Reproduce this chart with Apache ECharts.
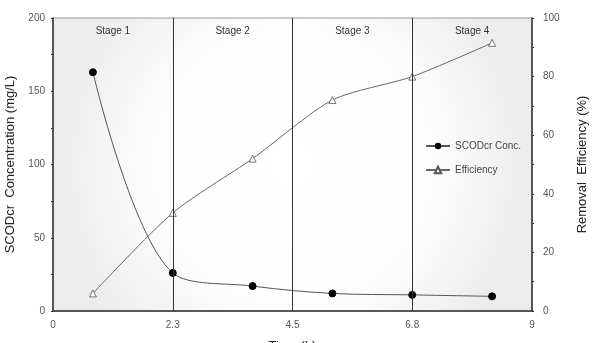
<!DOCTYPE html>
<html>
<head>
<meta charset="utf-8">
<script src="https://cdn.jsdelivr.net/npm/echarts@6/dist/echarts.min.js"></script>
<style>html,body{margin:0;padding:0;background:#fff}#c{width:599px;height:343px}</style>
</head>
<body>
<div id="c"></div>
<script>
var timeH = [0.75, 2.25, 3.75, 5.25, 6.75, 8.25];
var scodConc = [163, 26, 17, 12, 11, 10];
var efficiency = [6, 33.5, 52, 72, 80, 91.5];
var xTickValues = [0, 2.25, 4.5, 6.75, 9];
var xTickLabels = ['0', '2.3', '4.5', '6.8', '9'];
var stageBounds = [0, 2.25, 4.5, 6.75, 9];
var stageNames = ['Stage 1', 'Stage 2', 'Stage 3', 'Stage 4'];

var chart = echarts.init(document.getElementById('c'));
var font = 'Liberation Sans, Arial, sans-serif';
var tickColor = '#555';

function pairs(xs, ys){ return xs.map(function(x,i){ return [x, ys[i]]; }); }

var stageAreas = stageNames.map(function(n,i){
  return [{xAxis: stageBounds[i], name: n}, {xAxis: stageBounds[i+1]}];
});
var stageLines = stageBounds.slice(1, -1).map(function(v){ return {xAxis: v}; });

chart.setOption({
  animation: false,
  grid: {
    left: 53, right: 67, top: 18, bottom: 32,
    containLabel: false,
    outerBoundsMode: 'none',
    show: true,
    borderColor: '#999', borderWidth: 1,
    backgroundColor: {
      type: 'radial', x: 0.5, y: 0.5, r: 0.8,
      colorStops: [{offset: 0, color: '#ffffff'}, {offset: 0.6, color: '#fdfdfd'}, {offset: 1, color: '#ececec'}]
    }
  },
  legend: {
    left: 420, top: 136, orient: 'vertical', itemGap: 14,
    itemWidth: 24, itemHeight: 8,
    textStyle: {fontFamily: font, fontSize: 10, color: '#444'},
    data: ['SCODcr Conc.', 'Efficiency']
  },
  xAxis: {
    type: 'value', min: 0, max: 9, interval: 2.25,
    name: 'Time (h)', nameLocation: 'middle', nameGap: 29,
    nameTextStyle: {fontFamily: font, fontSize: 13, color: '#222'},
    axisLine: {lineStyle: {color: '#333', width: 1.5}},
    axisTick: {show: false},
    splitLine: {show: false},
    axisLabel: {
      fontFamily: font, fontSize: 10, color: tickColor, margin: 9,
      formatter: function(v){ var i = xTickValues.indexOf(v); return i >= 0 ? xTickLabels[i] : ''; }
    }
  },
  yAxis: [{
    type: 'value', min: 0, max: 200, interval: 50,
    name: 'SCODcr  Concentration (mg/L)', nameLocation: 'middle', nameGap: 35, nameRotate: 90,
    nameTextStyle: {fontFamily: font, fontSize: 13, color: '#222'},
    axisLine: {show: true, lineStyle: {color: '#333', width: 1.5}},
    axisTick: {show: true, length: 2, lineStyle: {color: '#333'}},
    minorTick: {show: true, splitNumber: 2, length: 2, lineStyle: {color: '#333'}},
    splitLine: {show: false},
    axisLabel: {fontFamily: font, fontSize: 10, color: tickColor, margin: 8}
  }, {
    type: 'value', min: 0, max: 100, interval: 20,
    name: 'Removal  Efficiency (%)', nameLocation: 'middle', nameGap: 44, nameRotate: 90,
    nameTextStyle: {fontFamily: font, fontSize: 13, color: '#222'},
    axisLine: {show: true, lineStyle: {color: '#333', width: 1.5}},
    axisTick: {show: true, length: 2, lineStyle: {color: '#333'}},
    minorTick: {show: true, splitNumber: 2, length: 2, lineStyle: {color: '#333'}},
    splitLine: {show: false},
    axisLabel: {fontFamily: font, fontSize: 10, color: tickColor, margin: 11}
  }],
  series: [{
    name: 'SCODcr Conc.', type: 'line', yAxisIndex: 0, smooth: 0.35,
    data: pairs(timeH, scodConc),
    symbol: 'circle', symbolSize: 7,
    lineStyle: {color: '#555', width: 1},
    itemStyle: {color: '#000', borderColor: '#000'},
    markLine: {
      silent: true, symbol: 'none', label: {show: false},
      lineStyle: {color: '#333', width: 1, type: 'solid'},
      data: stageLines
    },
    markArea: {
      silent: true,
      itemStyle: {color: 'rgba(0,0,0,0)'},
      label: {show: true, position: 'insideTop', distance: 8, fontFamily: font, fontSize: 10, color: '#333'},
      data: stageAreas
    }
  }, {
    name: 'Efficiency', type: 'line', yAxisIndex: 1, smooth: 0.25,
    data: pairs(timeH, efficiency),
    symbol: 'triangle', symbolSize: 7,
    lineStyle: {color: '#666', width: 1},
    itemStyle: {color: '#fff', borderColor: '#555', borderWidth: 0.8}
  }]
});
</script>
</body>
</html>
